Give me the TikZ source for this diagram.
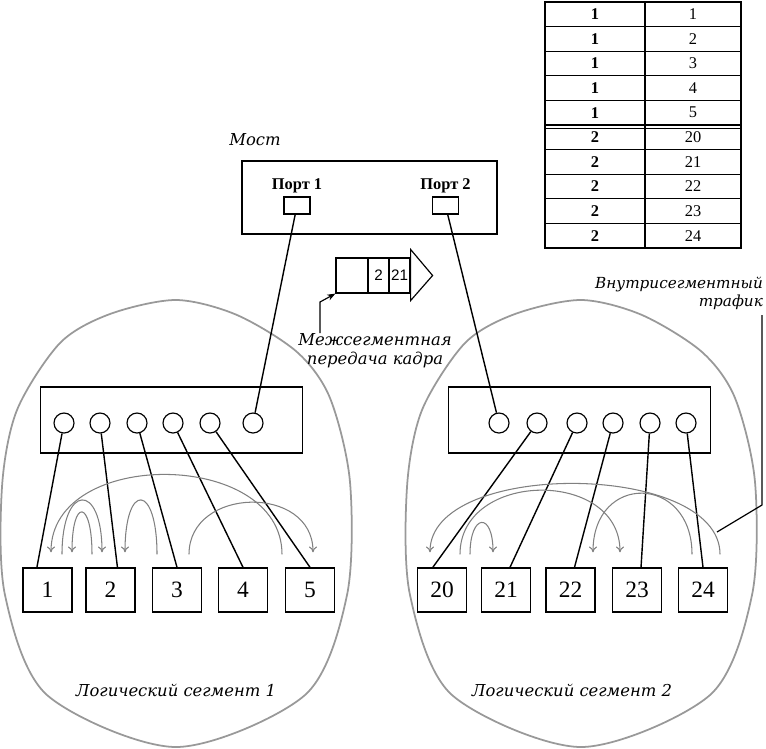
\documentclass[tikz,border=0pt]{standalone}
\usepackage{fontspec}
\setmainfont{Liberation Serif}
\setsansfont{Liberation Sans}
\newfontfamily\segfont{DejaVu Serif}
\usepackage{tikz}
\usetikzlibrary{calc, arrows.meta}

\begin{document}
\begin{tikzpicture}
	[x=0.03cm, y=-0.03cm,%
	egg/.style    ={draw=black!40,	line width=1.5pt},%
	hub/.style    ={rectangle,	draw=black,	line width=1.2pt,	inner sep=0pt,	minimum width=262*\pxu,	minimum height=66*\pxu},%
	port/.style   ={circle,		draw=black,	line width=1pt,		inner sep=0pt,	minimum size=20*\pxu},%
	station/.style={rectangle,	draw=black,	line width=1.2pt,	inner sep=0pt,	minimum width=49*\pxu,	minimum height=44*\pxu,	font=\fontsize{20}{22}\selectfont},%
	bridge/.style ={rectangle,	draw=black,	line width=1.2pt,	inner sep=0pt,	minimum width=255*\pxu,	minimum height=73*\pxu},%
	bport/.style  ={rectangle,	draw=black,	line width=1pt,		inner sep=0pt,	minimum width=26*\pxu,	minimum height=17*\pxu},%
	cell/.style   ={rectangle,	draw=black,	line width=1pt,		inner sep=0pt,	minimum height=24.6*\pxu,	font=\fontsize{14}{16}\selectfont},%
	pkt/.style    ={rectangle,	draw=black,	line width=1pt,		inner sep=0pt,	minimum height=35*\pxu,	font=\sffamily\fontsize{13}{15}\selectfont},%
	seglabel/.style={font=\segfont\itshape\fontsize{14}{16}\selectfont,	align=center},%
	link/.style   ={line width=1.2pt},%
	traffic/.style={draw=black!50,	line width=0.9pt,	-{To[length=5pt,width=7pt]}},%
	]

	\newcommand\pxu{0.03cm}
	\useasboundingbox (0,0) rectangle (766,748);

	% segments
	\foreach \sx in {0,405}
		\draw [egg, shift={(\sx,0)}] plot [smooth cycle] coordinates {(176,300) (237,315) (297,352) (330,398) (350,482) (347,595) (305,695) (176,747) (47,695) (5,595) (2,487) (17,410) (60,343) (110,314)};
	\node [seglabel] (seg1) at (176,690) {Логический сегмент 1};
	\node [seglabel] (seg2) at (572,690) {Логический сегмент 2};

	% table
	\foreach \i/\a/\b in {1/1/1, 2/1/2, 3/1/3, 4/1/4, 5/1/5, 6/2/20, 7/2/21, 8/2/22, 9/2/23, 10/2/24} {
		\node (tl\i) at (595,{14.3+24.6*(\i-1)}) [cell, minimum width=100*\pxu] {\bfseries\a};
		\node (tr\i) at (693,{14.3+24.6*(\i-1)}) [cell, minimum width=96*\pxu] {\b};
	}
	\draw [line width=1pt] ($(tl5.south west)+(0,2.5)$) -- ($(tr5.south east)+(0,2.5)$);

	% bridge
	\node (bridge) at (369.5,197.5) [bridge] {};
	\node [seglabel] (bridgelbl) at (255,140) {Мост};
	\node (bp1) at (297,205.5) [bport] {};
	\node (bp2) at (445.5,205.5) [bport] {};
	\node [font=\bfseries\fontsize{14}{16}\selectfont] (bp1lbl) at (297,186) {Порт 1};
	\node [font=\bfseries\fontsize{14}{16}\selectfont] (bp2lbl) at (445.5,186) {Порт 2};

	% frame
	\node (pk0) at (352,275.5) [pkt, minimum width=32*\pxu] {};
	\node (pk1) at (378.5,275.5) [pkt, minimum width=21*\pxu] {2};
	\node (pk2) at (399.5,275.5) [pkt, minimum width=21*\pxu] {21};
	\draw [line width=1pt] ($(pk2.north east)+(0,-8)$) -- ($(pk2.east)+(22,0)$) -- ($(pk2.south east)+(0,7)$) -- cycle;
	\node [seglabel] (framelbl) at (375,351) {Межсегментная\\передача кадра};
	\coordinate (ftail) at (320,333);
	\coordinate (fbend) at (320,302);
	\draw [line width=1pt, -{Stealth[length=7pt]}] (ftail) -- (fbend) -- (pk0.south west);

	% hubs
	\node (lhub) at (171.5,420) [hub] {};
	\node (rhub) at (579.5,420) [hub] {};
	\foreach \n/\x in {1/64, 2/100, 3/137, 4/173, 5/210, 6/253}
		\node (lp\n) at (\x,423) [port] {};
	\foreach \n/\x in {1/499, 2/537, 3/577, 4/613, 5/650, 6/686}
		\node (rp\n) at (\x,423) [port] {};

	% stations
	\foreach \n/\x in {1/47.5, 2/110.5, 3/177, 4/243, 5/310, 20/442, 21/506, 22/570.5, 23/637, 24/703}
		\node (s\n) at (\x,590) [station] {\n};

	% interconnections
	\draw [link] (bp1) -- (lp6);
	\draw [link] (bp2) -- (rp1);
	\foreach \p/\s/\a in {1/1/115, 2/2/73, 3/3/90, 4/4/90, 5/5/90}
		\draw [link] (lp\p) -- (s\s.\a);
	\foreach \p/\s/\a in {2/20/112, 3/21/80, 4/22/80, 5/23/80, 6/24/90}
		\draw [link] (rp\p) -- (s\s.\a);

	% intra-segment traffic
	\foreach \a/\da/\b/\db/\h in {5/-28/1/3.5/105, 1/14.5/2/-8.5/71, 2/-18.5/1/24.5/55, 3/-20/2/14.5/71, 3/12/5/3/68,%
									24/17/20/-12/93, 20/18/23/-17/84, 20/28/21/-13/41, 24/-11/22/22.5/80}
		\draw [traffic] ($(s\a.north)+(\da,-13)$) .. controls +(0,-\h) and +(0,-\h) .. ($(s\b.north)+(\db,-15)$);

	\node [seglabel, font=\segfont\itshape\fontsize{13}{15}\selectfont, align=right, anchor=north east] (intralbl) at (767,273) {Внутрисегментный\\трафик};
	\coordinate (ctop) at (762,315);
	\coordinate (cbend) at (762,505);
	\coordinate (cend) at (717,532);
	\draw [line width=1pt] (ctop) -- (cbend) -- (cend);

\end{tikzpicture}
\end{document}
